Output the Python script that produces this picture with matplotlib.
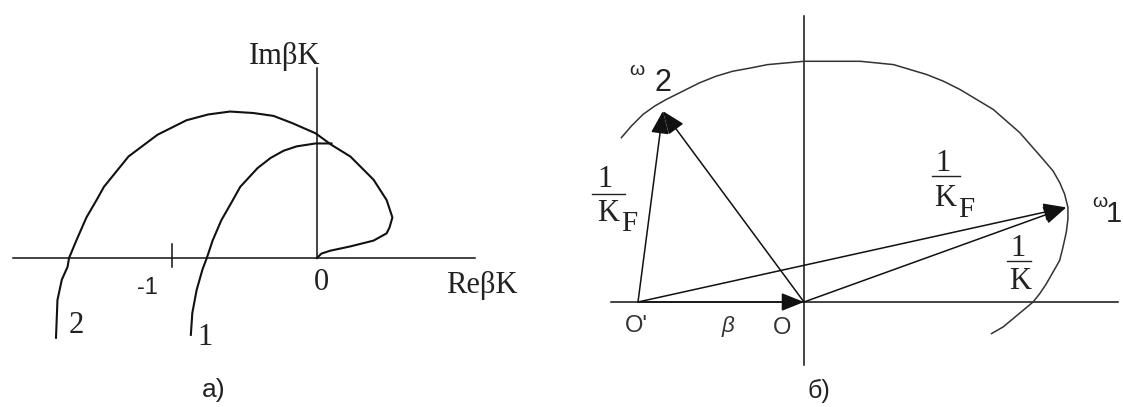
import matplotlib.pyplot as plt

# а) hodographs of beta*K, real axis units (-1 at the tick)
curve2_re = [-1.80, -1.79, -1.76, -1.72, -1.71, -1.66, -1.59, -1.52, -1.47, -1.30,
             -1.10, -0.90, -0.75, -0.60, -0.44, -0.30, -0.17, -0.01, 0.10, 0.23,
             0.39, 0.48, 0.52, 0.50, 0.48, 0.39, 0.23, 0.09, 0.03, 0.01, 0.0]
curve2_im = [-0.55, -0.29, -0.15, -0.06, 0.0, 0.12, 0.28, 0.40, 0.49, 0.70,
             0.85, 0.95, 0.99, 1.01, 1.00, 0.98, 0.93, 0.86, 0.78, 0.70,
             0.54, 0.40, 0.28, 0.21, 0.17, 0.12, 0.08, 0.05, 0.03, 0.01, 0.0]
curve1_re = [-0.87, -0.86, -0.83, -0.79, -0.76, -0.72, -0.66, -0.58, -0.53, -0.41,
             -0.32, -0.23, -0.14, -0.01, 0.10]
curve1_im = [-0.53, -0.38, -0.22, -0.08, 0.0, 0.12, 0.26, 0.40, 0.49, 0.62,
             0.69, 0.74, 0.77, 0.79, 0.79]

# б) hodograph of 1/K and the vectors, units of beta
hodo_x = [-1.10, -1.04, -0.97, -0.90, -0.83, -0.73, -0.63, -0.53, -0.43, -0.32, -0.22,
          -0.11, 0.0, 0.08, 0.17, 0.26, 0.34, 0.44, 0.54, 0.64, 0.74, 0.84, 0.94, 1.04,
          1.14, 1.22, 1.30, 1.37, 1.44, 1.50, 1.54, 1.57, 1.59, 1.59, 1.58, 1.56, 1.54,
          1.50, 1.46, 1.42, 1.38, 1.32, 1.26, 1.20, 1.13]
hodo_y = [0.99, 1.06, 1.13, 1.18, 1.22, 1.27, 1.32, 1.36, 1.39, 1.41, 1.43,
          1.44, 1.45, 1.45, 1.45, 1.45, 1.45, 1.44, 1.43, 1.40, 1.37, 1.33, 1.28, 1.22,
          1.16, 1.09, 1.02, 0.94, 0.86, 0.79, 0.72, 0.65, 0.57, 0.50, 0.42, 0.33, 0.25,
          0.18, 0.11, 0.05, 0.0, -0.05, -0.10, -0.15, -0.19]
origin = (0.0, 0.0)
origin_shift = (-1.0, 0.0)
omega2 = (-0.85, 1.15)
omega1 = (1.58, 0.57)

W, H = 1123, 407
fig = plt.figure(figsize=(W / 100, H / 100), dpi=100)

ink = '#111111'
txt = '#222222'
serif = 'Liberation Serif'
sans = 'Liberation Sans'

# left panel: origin at (317, 258) px, 145 px per unit
ax1 = fig.add_axes([0, 0, 560 / W, 1])
ax1.set_xlim((0 - 317) / 145, (560 - 317) / 145)
ax1.set_ylim((258 - H) / 145, 258 / 145)
ax1.axis('off')

ax1.plot([-2.10, 1.09], [0, 0], color=ink, lw=1.1)
ax1.plot([0, 0], [0, 1.31], color=ink, lw=1.1)
ax1.plot([-1, -1], [-0.06, 0.10], color=ink, lw=1.1)
ax1.plot(curve2_re, curve2_im, color=ink, lw=1.5)
ax1.plot(curve1_re, curve1_im, color=ink, lw=1.5)

ax1.text(-0.22, 1.34, 'Im\u03b2K', family=serif, fontsize=22, color=txt, ha='center', va='baseline')
ax1.text(1.14, -0.24, 'Re\u03b2K', family=serif, fontsize=22, color=txt, ha='center', va='baseline')
ax1.text(0.03, -0.22, '0', family=serif, fontsize=22, color=txt, ha='center', va='baseline')
ax1.text(-1.17, -0.25, '-1', family=sans, fontsize=17, color=txt, ha='center', va='baseline')
ax1.text(-1.66, -0.52, '2', family=serif, fontsize=22, color=txt, ha='center', va='baseline')
ax1.text(-0.77, -0.60, '1', family=serif, fontsize=22, color=txt, ha='center', va='baseline')
ax1.text(-0.71, -0.96, 'а)', family=sans, fontsize=19, color=txt, ha='center', va='baseline')

# right panel: O at (804, 302) px, 166 px per unit
ax2 = fig.add_axes([560 / W, 0, (W - 560) / W, 1])
ax2.set_xlim((560 - 804) / 166, (W - 804) / 166)
ax2.set_ylim((302 - H) / 166, 302 / 166)
ax2.axis('off')

ax2.plot([-1.16, 1.89], [0, 0], color=ink, lw=1.1)
ax2.plot([0, 0], [-0.38, 1.72], color=ink, lw=1.1)
ax2.plot(hodo_x, hodo_y, color='#333333', lw=1.1)

arrow = dict(arrowstyle='-|>,head_length=0.7,head_width=0.28', color=ink, lw=1.1,
             shrinkA=0, shrinkB=0, mutation_scale=20)
for tail, tip in [(origin_shift, origin), (origin_shift, omega2), (origin, omega2),
                  (origin_shift, omega1), (origin, omega1)]:
    ax2.annotate('', xy=tip, xytext=tail, arrowprops=arrow)

# fraction labels: numerator, bar, denominator with subscript
def fraction(ax, x1, y1, bar, xk, yk, den, sub=None, xs=None, ys=None):
    ax.text(x1, y1, '1', family=serif, fontsize=22, color=txt, ha='center', va='baseline')
    ax.plot(bar[0], [bar[1], bar[1]], color=txt, lw=1.0)
    ax.text(xk, yk, den, family=serif, fontsize=22, color=txt, ha='center', va='baseline')
    if sub:
        ax.text(xs, ys, sub, family=serif, fontsize=21, color=txt, ha='center', va='baseline')

fraction(ax2, -1.20, 0.69, ([-1.28, -1.08], 0.65), -1.18, 0.49, 'K', 'F', -1.05, 0.43)
fraction(ax2, 0.84, 0.79, ([0.77, 0.94], 0.76), 0.85, 0.58, 'K', 'F', 0.98, 0.51)
fraction(ax2, 1.29, 0.28, ([1.22, 1.37], 0.25), 1.30, 0.08, 'K')

ax2.text(-1.01, 1.37, '\u03c9', family=sans, fontsize=14, color=txt, ha='center', va='baseline')
ax2.text(-0.85, 1.27, '2', family=sans, fontsize=22, color=txt, ha='center', va='baseline')
ax2.text(1.78, 0.57, '\u03c9', family=sans, fontsize=14, color=txt, ha='center', va='baseline')
ax2.text(1.815, 0.48, '1', family=sans, fontsize=21, color=txt, ha='left', va='baseline')
ax2.text(-1.08, -0.18, "O'", family=sans, fontsize=17, color='#333333', ha='left', va='baseline')
ax2.text(-0.46, -0.18, '\u03b2', family=sans, fontsize=16, color='#333333', ha='center',
         va='baseline', style='italic')
ax2.text(-0.13, -0.19, 'O', family=sans, fontsize=17, color='#333333', ha='center', va='baseline')
ax2.text(0.09, -0.58, 'б)', family=sans, fontsize=18, color=txt, ha='center', va='baseline')

fig.savefig('out.png', dpi=100, facecolor='white')
